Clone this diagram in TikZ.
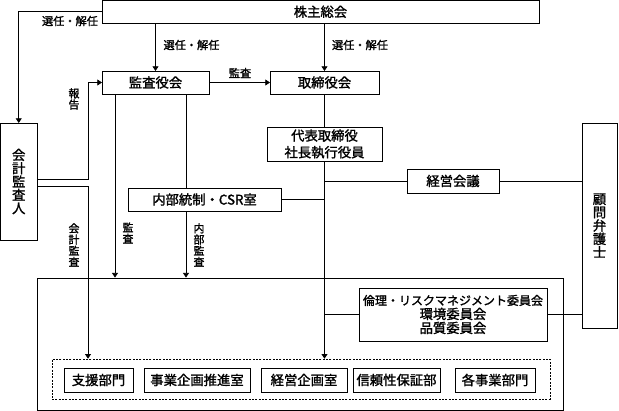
\documentclass[tikz,border=0pt]{standalone}
\usepackage{fontspec}
\setmainfont{Noto Sans CJK JP}[FakeBold=1.5]
\usetikzlibrary{arrows.meta}
\begin{document}
\begin{tikzpicture}[x=0.75pt,y=-0.75pt,
 ln/.style={draw=black, line width=0.6pt},
 box/.style={draw=black, line width=0.6pt, fill=white, inner sep=0pt, outer sep=0pt, font=\fontsize{10pt}{11pt}\selectfont, align=center},
 sz/.style 2 args={minimum width=#1*0.75pt, minimum height=#2*0.75pt},
 lbl/.style={font=\fontsize{8.4pt}{9pt}\selectfont, inner sep=0pt},
 vlbl/.style={font=\fontsize{8.2pt}{8.4pt}\selectfont, inner sep=0pt, align=center},
 arr/.style={-{Triangle[length=3.5pt,width=4.5pt]}}]
\useasboundingbox (0,0) rectangle (619,411);
% frames
\node[draw=black, line width=0.6pt, inner sep=0pt, sz={526}{132}] (main) at (300,344) {};
\node[draw=black, line width=0.5pt, dash pattern=on 1.5pt off 1pt, inner sep=0pt, sz={498}{40}] (grp) at (301,379) {};
% boxes
\node[box, sz={437}{23}] (kabu) at (320.5,11.75) {株主総会};
\node[box, sz={107}{23}] (kansa) at (155.5,82.5) {監査役会};
\node[box, sz={109}{23}] (tori) at (324.5,82.5) {取締役会};
\node[box, sz={115}{34}, font=\fontsize{10pt}{12.5pt}\selectfont] (daihyo) at (324.5,144) {代表取締役\\社長執行役員};
\node[box, sz={153}{23}] (naibu) at (204.5,199.5) {内部統制・CSR室};
\node[box, sz={92}{24}] (keiei) at (453,181) {経営会議};
\node[box, sz={35}{205}, font=\fontsize{10pt}{10pt}\selectfont] (komon) at (599.5,225.5) {顧\\問\\弁\\護\\士};
\node[box, sz={36.5}{117}, font=\fontsize{10pt}{10pt}\selectfont] (kaikei) at (18.75,181.5) {会\\計\\監\\査\\人};
\node[box, sz={188}{53}, font=\fontsize{9pt}{10.5pt}\selectfont] (rinri) at (453,314.5) {倫理・リスクマネジメント委員会\\\fontsize{10pt}{10.5pt}\selectfont 環境委員会\\\fontsize{10pt}{10.5pt}\selectfont 品質委員会};
\node[box, sz={69}{24}] (shien) at (98.5,380) {支援部門};
\node[box, sz={106}{24}] (jigyo) at (197,380) {事業企画推進室};
\node[box, sz={86}{24}] (keikaku) at (304,380) {経営企画室};
\node[box, sz={87}{24}] (shinrai) at (396.5,380) {信頼性保証部};
\node[box, sz={80}{24}] (kaku) at (495,380) {各事業部門};
% labels
\node[lbl] (l1) at (70,21) {選任・解任};
\node[lbl] (l2) at (191.5,45) {選任・解任};
\node[lbl] (l3) at (360,45) {選任・解任};
\node[lbl] (l4) at (240,73) {監査};
\node[vlbl] (l5) at (74,99) {報\\告};
\node[vlbl] (l6) at (74,245) {会\\計\\監\\査};
\node[vlbl] (l7) at (128,233) {監\\査};
\node[vlbl] (l8) at (199,245) {内\\部\\監\\査};
% helper coordinates
\coordinate (xa) at (115,0);
\coordinate (xb) at (186,0);
\coordinate (xr) at (88,0);
\coordinate (ya) at (0,179);
\coordinate (yb) at (0,186);
% connectors
\draw[ln,arr] (kabu.west) -| (kaikei.north);
\draw[ln,arr] (kabu.south -| kansa.north) -- (kansa.north);
\draw[ln,arr] (kabu.south -| tori.north) -- (tori.north);
\draw[ln,arr] (kansa.east) -- (tori.west);
\draw[ln,arr] (kaikei.east |- ya) -| (xr |- kansa.west) -- (kansa.west);
\draw[ln,arr] (kaikei.east |- yb) -| (xr |- grp.north);
\draw[ln,arr] (kansa.south -| xa) -- (main.north -| xa);
\draw[ln] (kansa.south -| xb) -- (naibu.north -| xb);
\draw[ln,arr] (naibu.south -| xb) -- (main.north -| xb);
\draw[ln] (tori.south) -- (daihyo.north);
\draw[ln,arr] (daihyo.south) -- (daihyo.south |- grp.north);
\draw[ln] (naibu.east) -- (naibu.east -| daihyo.south);
\draw[ln] (daihyo.south |- keiei.west) -- (keiei.west);
\draw[ln] (keiei.east) -- (keiei.east -| komon.west);
\draw[ln] (daihyo.south |- rinri.west) -- (rinri.west);
\draw[ln] (rinri.east) -- (rinri.east -| komon.west);
\end{tikzpicture}
\end{document}
